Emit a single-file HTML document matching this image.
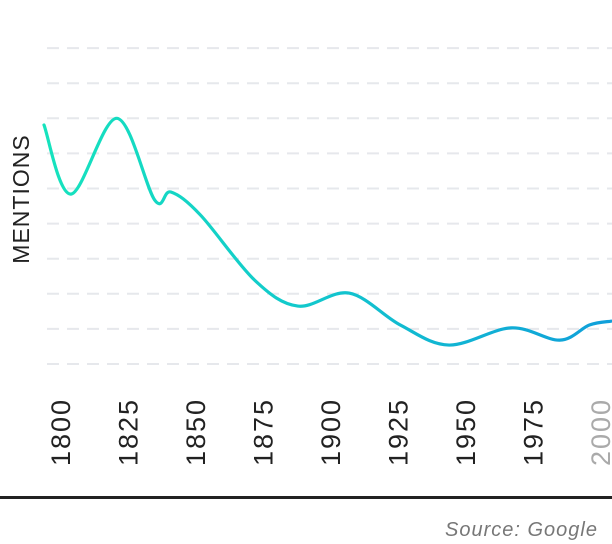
<!DOCTYPE html>
<html><head><meta charset="utf-8"><style>
html,body{margin:0;padding:0;background:#fff;}
svg{display:block;font-family:"Liberation Sans",sans-serif;}
</style></head><body>
<svg id="chart" width="612" height="544" viewBox="0 0 612 544">
<defs><linearGradient id="lg" x1="0" x2="1" y1="0" y2="0">
<stop offset="0" stop-color="#16e3bd"/><stop offset="0.45" stop-color="#12c9cc"/><stop offset="1" stop-color="#109fda"/></linearGradient></defs>
<g id="grid"></g>
<path id="line" fill="none" stroke="url(#lg)" stroke-width="3.2" stroke-linecap="round"/>
<g id="xticks"></g>
<text transform="translate(29,199) rotate(-90)" text-anchor="middle" font-size="23" fill="#222" letter-spacing="1">MENTIONS</text>
<rect x="0" y="496" width="612" height="3" fill="#222"/>
<text x="598" y="536" text-anchor="end" font-size="20" font-style="italic" fill="#777" letter-spacing="1">Source: Google</text>
</svg>
<script>
const years=[1800,1810,1827,1841,1847,1858,1878,1894,1913,1932,1950,1973,1991,2002,2010];
const values=[6.81,4.84,7.0,4.67,4.9,4.24,2.39,1.65,2.02,1.11,0.54,1.03,0.68,1.11,1.22];
const tickYears=[1800,1825,1850,1875,1900,1925,1950,1975,2000];
const gridValues=[0,1,2,3,4,5,6,7,8,9];
const ns="http://www.w3.org/2000/svg";
function xs(y){return 44+(y-1800)*2.7;}
function ys(v){return 364-v*35.1;}
const grid=document.getElementById('grid');
gridValues.forEach(g=>{
 const l=document.createElementNS(ns,'line');
 
 
 l.setAttribute('x1',47);l.setAttribute('x2',612);
 l.setAttribute('y1',ys(g));l.setAttribute('y2',ys(g));
 l.setAttribute('stroke','#e6e8ec');l.setAttribute('stroke-width','2');
 l.setAttribute('stroke-dasharray','12 8');
 grid.appendChild(l);
});
const pts=years.map((y,i)=>[xs(y),ys(values[i])]);
let d='M'+pts[0][0]+','+pts[0][1];
for(let i=0;i<pts.length-1;i++){
 const p0=pts[Math.max(0,i-1)],p1=pts[i],p2=pts[i+1],p3=pts[Math.min(pts.length-1,i+2)];
 const c1=[p1[0]+(p2[0]-p0[0])/6,p1[1]+(p2[1]-p0[1])/6];
 const c2=[p2[0]-(p3[0]-p1[0])/6,p2[1]-(p3[1]-p1[1])/6];
 d+=' C'+c1[0]+','+c1[1]+' '+c2[0]+','+c2[1]+' '+p2[0]+','+p2[1];
}
document.getElementById('line').setAttribute('d',d);
const xt=document.getElementById('xticks');
tickYears.forEach(t=>{
 const tx=document.createElementNS(ns,'text');
 
 
 const x=xs(t)+26;
 tx.setAttribute('transform','translate('+x+',466) rotate(-90)');
 tx.setAttribute('font-size','27');
 tx.setAttribute('textLength','66');
 tx.setAttribute('fill',t===2000?'#aaa':'#222');
 tx.textContent=t;
 xt.appendChild(tx);
});
</script>
</body></html>
